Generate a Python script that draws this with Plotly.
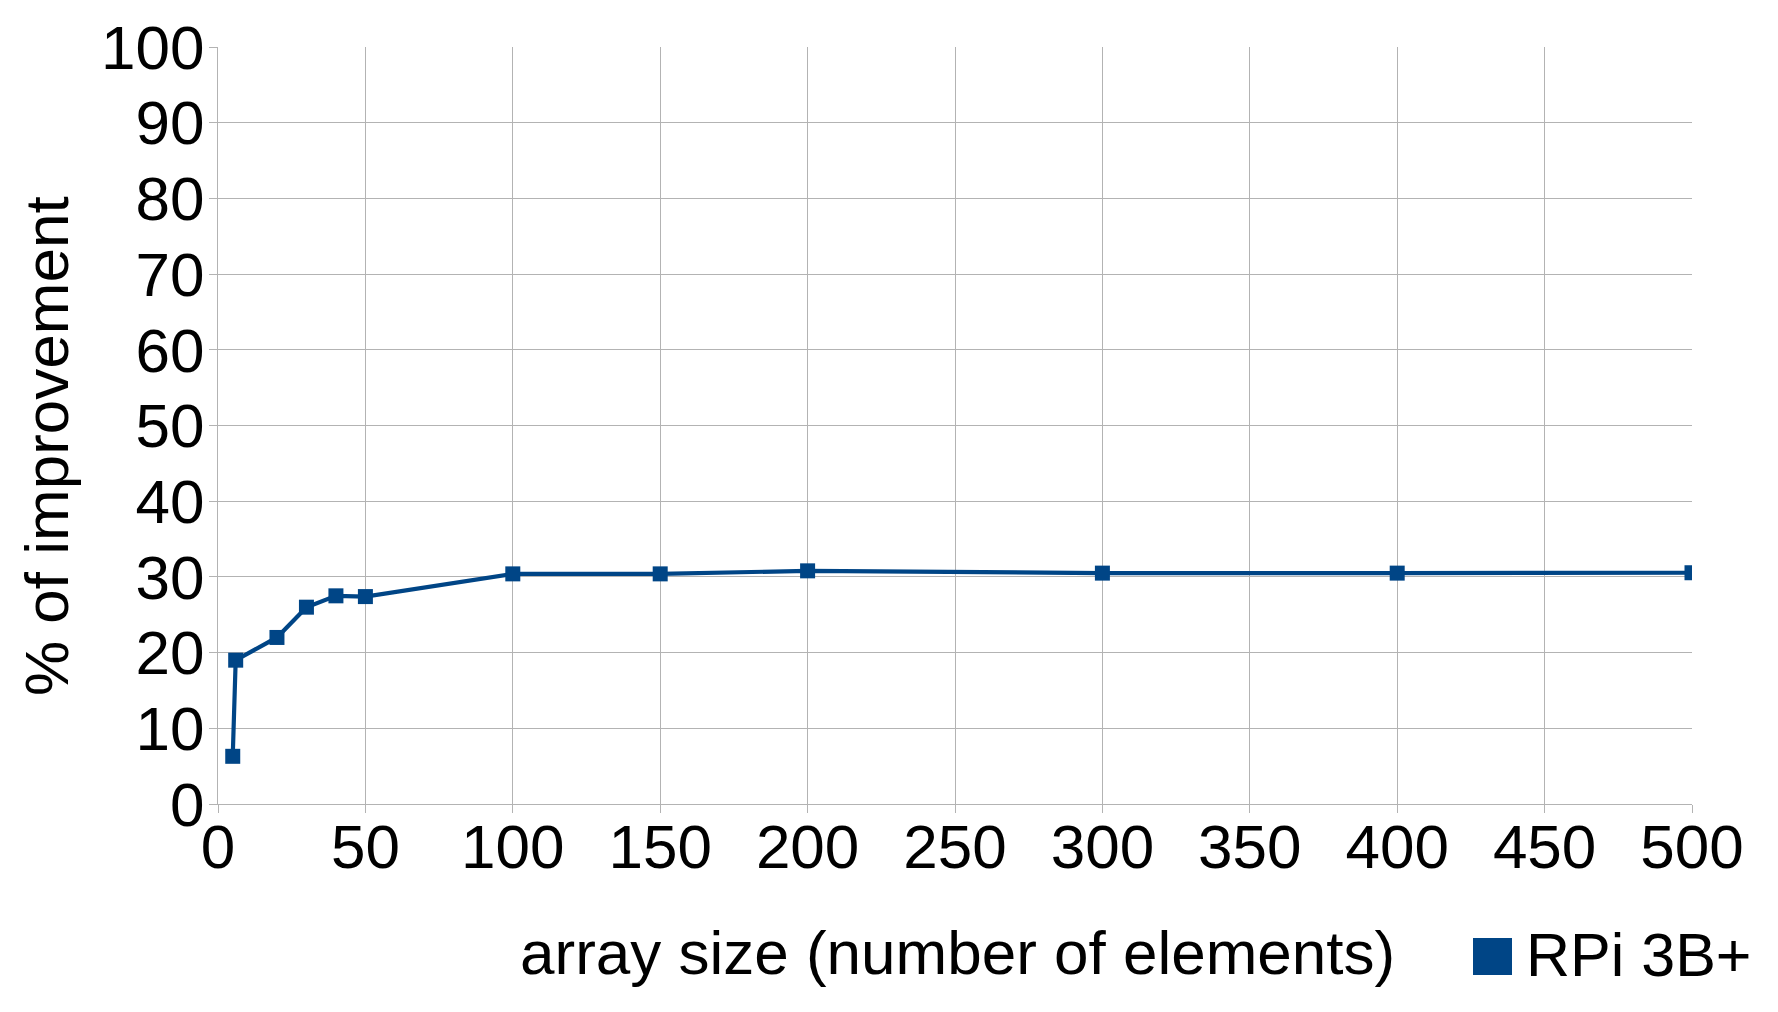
import plotly.graph_objects as go

# ---- data ----
sizes = [5, 6, 20, 30, 40, 50, 100, 150, 200, 300, 400, 500]
improvement = [6.3, 19.0, 22.0, 26.0, 27.5, 27.4, 30.4, 30.4, 30.8, 30.5, 30.5, 30.55]
series_name = "RPi 3B+"
x_ticks = list(range(0, 501, 50))
y_ticks = list(range(0, 101, 10))
x_title = "array size (number of elements)"
y_title = "% of improvement"

W, H = 1778, 1012
ML, MR, MT, MB = 218, 86, 47, 208
PW, PH = W - ML - MR, H - MT - MB

def px(x):
    return (x - ML) / PW

def py(y):
    return (H - MB - y) / PH

color = "#004586"
grid = "#b3b3b3"
font = "Liberation Sans"

fig = go.Figure()
fig.add_trace(go.Scatter(
    x=sizes, y=improvement, mode="lines+markers", name=series_name,
    line=dict(color=color, width=4.2),
    marker=dict(symbol="square", size=15, color=color),
    showlegend=False,
))

fig.update_layout(
    width=W, height=H,
    margin=dict(l=ML, r=MR, t=MT, b=MB),
    paper_bgcolor="white", plot_bgcolor="white",
    font=dict(family=font, size=62, color="black"),
    xaxis=dict(range=[0, 500], tickvals=x_ticks, ticktext=[str(v) for v in x_ticks],
               showgrid=True, gridcolor=grid, gridwidth=1.3,
               zeroline=False, showline=True, linecolor=grid, linewidth=1.3,
               ticks="outside", ticklen=8, tickcolor=grid, tickwidth=1.3,
               tickfont=dict(size=62), ticklabelstandoff=-20),
    yaxis=dict(range=[0, 100], tickvals=y_ticks, ticktext=[str(v) for v in y_ticks],
               showgrid=True, gridcolor=grid, gridwidth=1.3,
               zeroline=False, showline=True, linecolor=grid, linewidth=1.3,
               ticks="outside", ticklen=8, tickcolor=grid, tickwidth=1.3,
               tickfont=dict(size=62), ticklabelstandoff=-8),
    annotations=[
        dict(text=x_title, xref="paper", yref="paper", x=px(957), y=py(953),
             xanchor="center", yanchor="middle", showarrow=False,
             font=dict(size=62, family=font, color="black")),
        dict(text=y_title, xref="paper", yref="paper", x=px(46), y=py(446),
             xanchor="center", yanchor="middle", textangle=-90, showarrow=False,
             font=dict(size=62, family=font, color="black")),
        dict(text=series_name, xref="paper", yref="paper", x=px(1524), y=py(955),
             xanchor="left", yanchor="middle", showarrow=False,
             font=dict(size=61, family=font, color="black")),
    ],
    shapes=[
        dict(type="rect", xref="paper", yref="paper",
             x0=px(1473), x1=px(1512), y0=py(975), y1=py(938),
             fillcolor=color, line=dict(width=0)),
    ],
)

fig.write_html(
    "out.html",
    config={"displayModeBar": False},
    post_script="document.body.style.margin='0';document.body.style.overflow='hidden';",
)
